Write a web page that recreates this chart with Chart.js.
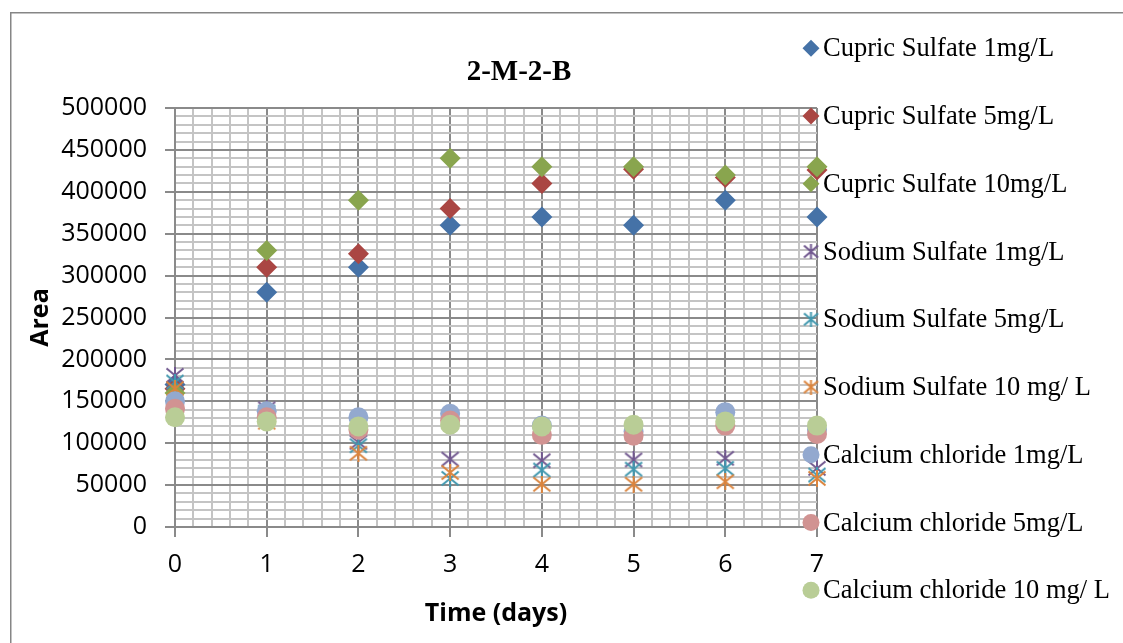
<!DOCTYPE html>
<html>
<head>
<meta charset="utf-8">
<script src="https://cdn.jsdelivr.net/npm/chart.js@4/dist/chart.umd.min.js"></script>
<style>
  html, body { margin: 0; padding: 0; background: #ffffff; }
  canvas { display: block; }
</style>
</head>
<body>
<canvas id="chart" width="1123" height="643"></canvas>
<script>
// Sampling days
const days = [0, 1, 2, 3, 4, 5, 6, 7];

// Peak area per treatment
const cupric1   = [170000, 280000, 310000, 360000, 370000, 360000, 390000, 370000];
const cupric5   = [165000, 310000, 326000, 380000, 410000, 427000, 417000, 426000];
const cupric10  = [160000, 330000, 390000, 440000, 430000, 430000, 420000, 430000];
const sodium1   = [181000, 141000, 101000, 81000, 79000, 80000, 82000, 70000];
const sodium5   = [173000, 137000, 97000, 58000, 68000, 69000, 70000, 62000];
const sodium10  = [165000, 125000, 88000, 65000, 51000, 51000, 54000, 58000];
const calcium1  = [150000, 138000, 131000, 135000, 121000, 114000, 137000, 116000];
const calcium5  = [141000, 131000, 116000, 127000, 110000, 109000, 121000, 111000];
const calcium10 = [131000, 126000, 120000, 122000, 120000, 122000, 126000, 121000];

const seriesNames = [
  'Cupric Sulfate 1mg/L', 'Cupric Sulfate 5mg/L', 'Cupric Sulfate 10mg/L',
  'Sodium Sulfate 1mg/L', 'Sodium Sulfate 5mg/L', 'Sodium Sulfate 10 mg/ L',
  'Calcium chloride 1mg/L', 'Calcium chloride 5mg/L', 'Calcium chloride 10 mg/ L'
];
const seriesValues = [cupric1, cupric5, cupric10, sodium1, sodium5, sodium10, calcium1, calcium5, calcium10];

const chartTitle = '2-M-2-B';
const xTitle = 'Time (days)';
const yTitle = 'Area';

// Marker styling
const markerColors = ['#4572A7', '#AA4643', '#89A54E', '#71588F', '#4198AF', '#DB843D', '#93A9CF', '#D19392', '#B9CD96'];
const markerKinds  = ['diamond', 'diamond', 'diamond', 'star', 'star', 'star', 'circle', 'circle', 'circle'];

// Asterisk-style marker: an X crossed by a vertical stroke
function starMarker(color, w, h) {
  const c = document.createElement('canvas');
  c.width = w; c.height = h;
  const g = c.getContext('2d');
  g.strokeStyle = color;
  g.lineWidth = 2;
  g.beginPath();
  g.moveTo(1.5, 1.5); g.lineTo(w - 1.5, h - 1.5);
  g.moveTo(w - 1.5, 1.5); g.lineTo(1.5, h - 1.5);
  g.moveTo(w / 2, 0); g.lineTo(w / 2, h);
  g.stroke();
  return c;
}

function styleFor(kind, color, legend) {
  if (kind === 'diamond') return { pointStyle: 'rectRot', radius: legend ? 8.5 : 10.5 };
  if (kind === 'circle') return { pointStyle: 'circle', radius: legend ? 8.5 : 10 };
  return { pointStyle: legend ? starMarker(color, 17, 15) : starMarker(color, 20, 17), radius: 9 };
}

const datasets = seriesValues.map((vals, i) => {
  const st = styleFor(markerKinds[i], markerColors[i], false);
  return {
    label: seriesNames[i],
    data: days.map((d, k) => ({ x: d, y: vals[k] })),
    showLine: false,
    clip: false,
    pointStyle: st.pointStyle,
    pointRadius: st.radius,
    pointHoverRadius: st.radius,
    pointBackgroundColor: markerColors[i],
    pointBorderColor: markerColors[i],
    pointBorderWidth: 0,
    order: seriesValues.length - i
  };
});

const isMajor = (v, step) => Math.abs(v / step - Math.round(v / step)) < 1e-6;
const majorGrid = '#8a8a8a';
const minorGrid = '#c4c4c4';

// Frame, title and the side legend
const decorations = {
  id: 'decorations',
  beforeDraw(chart) {
    const ctx = chart.ctx;
    ctx.save();
    ctx.fillStyle = '#ffffff';
    ctx.fillRect(0, 0, chart.width, chart.height);
    ctx.strokeStyle = '#868686';
    ctx.lineWidth = 1.5;
    ctx.beginPath();
    ctx.moveTo(10.75, chart.height + 5);
    ctx.lineTo(10.75, 12.75);
    ctx.lineTo(chart.width + 5, 12.75);
    ctx.stroke();
    ctx.restore();
  },
  afterDraw(chart) {
    const ctx = chart.ctx;
    ctx.save();
    ctx.fillStyle = '#000000';
    ctx.textAlign = 'center';
    ctx.textBaseline = 'middle';
    ctx.font = 'bold 29px "Liberation Serif"';
    ctx.fillText(chartTitle, 519, 73);

    ctx.font = '26.5px "Liberation Serif"';
    ctx.textAlign = 'left';
    seriesNames.forEach((name, i) => {
      const y = 48.3 + i * 67.75;
      const st = styleFor(markerKinds[i], markerColors[i], true);
      ctx.fillStyle = markerColors[i];
      ctx.strokeStyle = markerColors[i];
      Chart.helpers.drawPoint(ctx, { pointStyle: st.pointStyle, radius: st.radius, rotation: 0, borderWidth: 0 }, 811, y);
      ctx.fillStyle = '#000000';
      ctx.fillText(name, 823, y + 1);
    });
    ctx.restore();
  }
};

new Chart(document.getElementById('chart'), {
  type: 'scatter',
  data: { datasets },
  plugins: [decorations],
  options: {
    responsive: false,
    animation: false,
    devicePixelRatio: 1,
    layout: { padding: { top: 108, right: 306, bottom: 0, left: 0 } },
    plugins: {
      legend: { display: false },
      title: { display: false },
      tooltip: { enabled: false }
    },
    scales: {
      x: {
        type: 'linear',
        min: 0,
        max: 7,
        afterFit(scale) { scale.height = 116; },
        ticks: {
          stepSize: 0.2,
          autoSkip: false,
          maxRotation: 0,
          padding: 13,
          color: '#000000',
          font: { family: '"Open Sans"', size: 25 },
          callback: (v) => isMajor(v, 1) ? String(Math.round(v)) : ''
        },
        grid: {
          color: (c) => (c.tick && isMajor(c.tick.value, 1)) ? majorGrid : minorGrid,
          lineWidth: 2,
          tickLength: 10,
          tickColor: (c) => (c.tick && isMajor(c.tick.value, 1)) ? majorGrid : 'rgba(0,0,0,0)'
        },
        border: { color: majorGrid, width: 2 },
        title: {
          display: true,
          text: xTitle,
          color: '#000000',
          font: { family: '"Open Sans"', size: 25, weight: 'bold' },
          padding: { top: 0, bottom: 14 }
        }
      },
      y: {
        type: 'linear',
        min: 0,
        max: 500000,
        afterFit(scale) { scale.width = 175; },
        ticks: {
          stepSize: 10000,
          autoSkip: false,
          padding: 18,
          color: '#000000',
          font: { family: '"Open Sans"', size: 25 },
          callback: (v) => isMajor(v, 50000) ? String(v) : ''
        },
        grid: {
          color: (c) => (c.tick && isMajor(c.tick.value, 50000)) ? majorGrid : minorGrid,
          lineWidth: 2,
          tickLength: 10,
          tickColor: (c) => (c.tick && isMajor(c.tick.value, 50000)) ? majorGrid : 'rgba(0,0,0,0)'
        },
        border: { color: majorGrid, width: 2 },
        title: {
          display: true,
          text: yTitle,
          color: '#000000',
          font: { family: '"Open Sans"', size: 25, weight: 'bold' },
          padding: { top: 26, bottom: 0 }
        }
      }
    }
  }
});
</script>
</body>
</html>
